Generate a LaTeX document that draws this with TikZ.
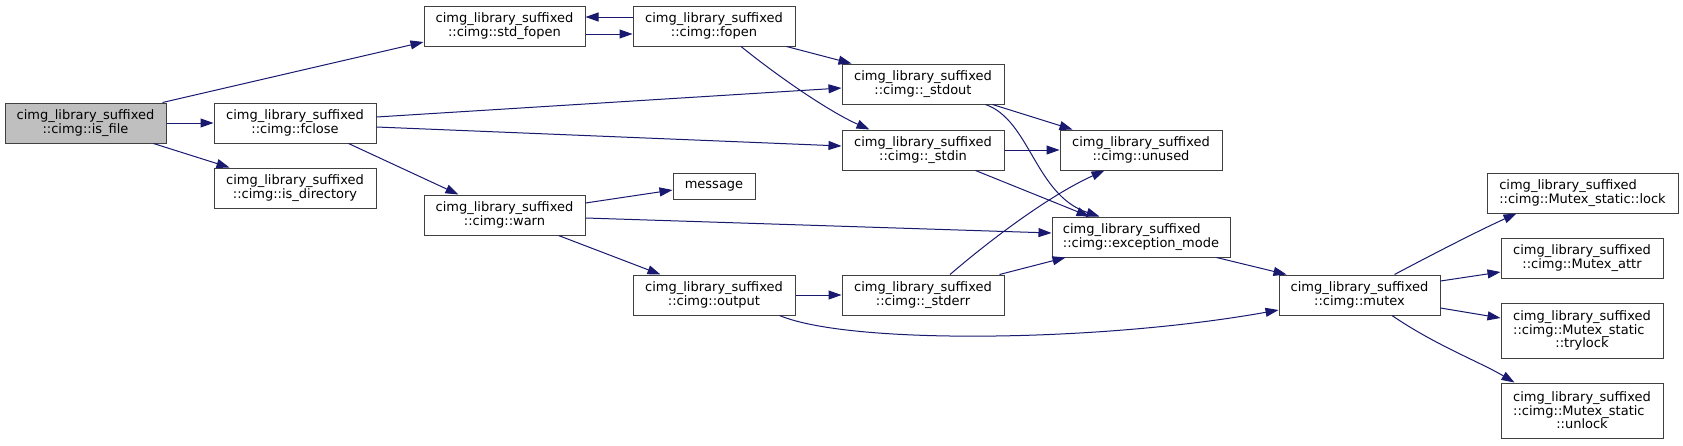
\documentclass[tikz,border=0pt]{standalone}
\usepackage{fontspec}
\newfontfamily\dvsfam{DejaVu Sans}
\usetikzlibrary{arrows.meta,calc}
\definecolor{edgec}{HTML}{191970}
\definecolor{boxc}{HTML}{404040}
\definecolor{grayfill}{HTML}{BFBFBF}
\newcommand{\padleftln}[1]{\makebox[0pt][l]{#1}\phantom{cimg\_library\_suffixed}}
\tikzset{
  box/.style={draw=boxc, line width=1pt, fill=white, inner sep=0pt, align=center,
    font=\dvsfam\fontsize{13}{13.5}\selectfont, minimum width=162pt, minimum height=40pt},
  link/.style={draw=edgec, line width=1pt, -{Triangle[length=13pt,width=9pt]}},
}
\begin{document}
\begin{tikzpicture}[x=1pt,y=-1pt]
\fill[white] (0,0) rectangle (1683,445);
\useasboundingbox (0,0) rectangle (1683,445);

\node[box, fill=grayfill, minimum width=161pt] (isfile) at (85.5,123) {cimg\_library\_suffixed\\::cimg::is\_file};
\node[box] (fclose) at (295,123) {cimg\_library\_suffixed\\::cimg::fclose};
\node[box] (isdir) at (295,188) {cimg\_library\_suffixed\\::cimg::is\_directory};
\node[box, minimum width=161pt] (stdfopen) at (504.5,26) {cimg\_library\_suffixed\\::cimg::std\_fopen};
\node[box, minimum width=161pt] (warn) at (504.5,215) {cimg\_library\_suffixed\\::cimg::warn};
\node[box] (fopen) at (714,26) {cimg\_library\_suffixed\\::cimg::fopen};
\node[box, minimum width=82pt, minimum height=26pt] (message) at (714,186) {message};
\node[box] (output) at (714,295) {cimg\_library\_suffixed\\::cimg::output};
\node[box] (stdout) at (923,84) {cimg\_library\_suffixed\\::cimg::\_stdout};
\node[box] (stdin) at (923,150) {cimg\_library\_suffixed\\::cimg::\_stdin};
\node[box] (stderr) at (923,295) {cimg\_library\_suffixed\\::cimg::\_stderr};
\node[box] (unused) at (1141,150) {cimg\_library\_suffixed\\::cimg::unused};
\node[box, minimum width=178pt, align=left] (excmode) at (1141,237) {cimg\_library\_suffixed\\::cimg::exception\_mode};
\node[box, minimum width=161pt] (mutex) at (1359.5,295) {cimg\_library\_suffixed\\::cimg::mutex};
\node[box, minimum width=191pt, align=left] (lock) at (1582.5,193) {cimg\_library\_suffixed\\::cimg::Mutex\_static::lock};
\node[box] (attr) at (1582,258) {cimg\_library\_suffixed\\::cimg::Mutex\_attr};
\node[box, minimum height=55pt] (trylock) at (1582,330.5) {cimg\_library\_suffixed\\\padleftln{::cimg::Mutex\_static}\\::trylock};
\node[box, minimum height=55pt] (unlock) at (1582,410.5) {cimg\_library\_suffixed\\\padleftln{::cimg::Mutex\_static}\\::unlock};

% edges
\draw[link] ($(isfile.north east)+(-4,0)$) -- ($(stdfopen.west)+(0,16)$);
\draw[link] (isfile.east) -- (fclose.west);
\draw[link] ($(isfile.south east)+(-13,0)$) -- ($(isdir.north west)+(16,0)$);
\draw[link] ($(fclose.east)+(0,-6)$) -- ($(stdout.west)+(0,4)$);
\draw[link] ($(fclose.east)+(0,4)$) -- ($(stdin.west)+(0,-4)$);
\draw[link] ($(fclose.south east)+(-28,0)$) -- ($(warn.north west)+(35,0)$);
\draw[link] ($(stdfopen.east)+(0,8)$) -- ($(fopen.west)+(0,8)$);
\draw[link] ($(fopen.west)+(0,-9)$) -- ($(stdfopen.east)+(0,-9)$);
\draw[link] ($(fopen.south east)+(-9,0)$) -- ($(stdout.north west)+(10,0)$);
\draw[link] ($(fopen.south)+(27,0)$) .. controls (780,78) and (830,112) .. ($(stdin.north west)+(28,0)$);
\draw[link] ($(stdout.south east)+(-12,0)$) -- ($(unused.north west)+(13,0)$);
\draw[link] ($(stdout.south east)+(-19,0)$) .. controls (1030,120) and (1035,195) .. ($(excmode.north west)+(48,0)$);
\draw[link] (stdin.east) -- (unused.west);
\draw[link] ($(stdin.south east)+(-29,0)$) -- ($(excmode.north west)+(38,0)$);
\draw[link] ($(warn.east)+(0,-12)$) -- ($(message.west)+(0,4)$);
\draw[link] ($(warn.east)+(0,3)$) -- ($(excmode.west)+(0,-4)$);
\draw[link] ($(warn.south east)+(-27,0)$) -- ($(output.north west)+(28,0)$);
\draw[link] (output.east) -- (stderr.west);
\draw[link] ($(output.south east)+(-16,0)$) .. controls (850,345) and (1100,342) .. ($(mutex.west)+(0,15)$);
\draw[link] ($(stderr.north)+(27,0)$) .. controls (990,240) and (1050,195) .. ($(unused.south west)+(45,0)$);
\draw[link] ($(stderr.north east)+(-5,0)$) -- ($(excmode.south west)+(14,0)$);
\draw[link] ($(excmode.south east)+(-14,0)$) -- ($(mutex.north west)+(8,0)$);
\draw[link] ($(mutex.north)+(35,0)$) .. controls (1435,253) and (1480,230) .. ($(lock.south west)+(30,0)$);
\draw[link] ($(mutex.east)+(0,-14)$) -- ($(attr.west)+(0,14)$);
\draw[link] ($(mutex.east)+(0,13)$) -- ($(trylock.west)+(0,-12.5)$);
\draw[link] ($(mutex.south)+(32.5,0)$) .. controls (1435,345) and (1480,362) .. ($(unlock.north west)+(14,0)$);
\end{tikzpicture}
\end{document}
